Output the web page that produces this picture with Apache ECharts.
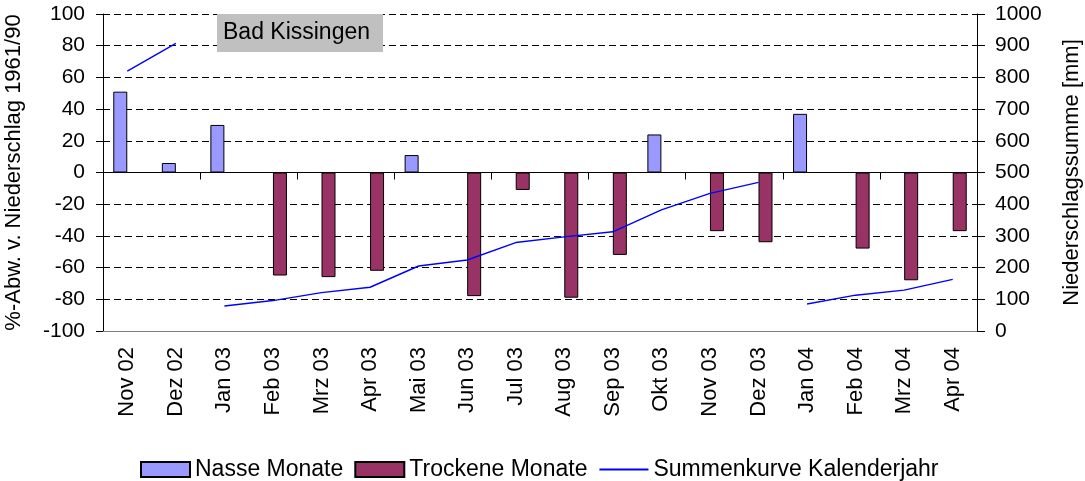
<!DOCTYPE html>
<html>
<head>
<meta charset="utf-8">
<title>Bad Kissingen</title>
<script src="https://cdn.jsdelivr.net/npm/echarts@6/dist/echarts.min.js"></script>
<style>
    html, body { margin: 0; padding: 0; background: #fff; }
    #chart { width: 1085px; height: 481px; }
</style>
</head>
<body>
<div id="chart"></div>
<script>
// Monthly precipitation, Bad Kissingen
var categories = ['Nov 02', 'Dez 02', 'Jan 03', 'Feb 03', 'Mrz 03', 'Apr 03', 'Mai 03', 'Jun 03', 'Jul 03',
    'Aug 03', 'Sep 03', 'Okt 03', 'Nov 03', 'Dez 03', 'Jan 04', 'Feb 04', 'Mrz 04', 'Apr 04'];

// % deviation from 1961/90 mean (left axis)
var deviation = [51, 6, 30, -65, -66, -62, 11, -78, -11, -79, -52, 24, -37, -44, 37, -48, -68, -37];

// cumulative precipitation per calendar year in mm (right axis)
var sumCurve = [820, 907, 79, 96, 121, 138, 205, 224, 279, 297, 313, 382, 434, 469, 85, 113, 129, 163];

var FONT = '"Liberation Sans", Arial, sans-serif';

var wet = deviation.map(function (v) { return v > 0 ? v : null; });
var dry = deviation.map(function (v) { return v < 0 ? v : null; });

// one line segment per calendar year, so the curve breaks at January
function yearSeries() {
    var years = [];
    categories.forEach(function (c) {
        var y = c.slice(-2);
        if (years.indexOf(y) < 0) {
            years.push(y);
        }
    });

    return years.map(function (y) {
        return {
            name: 'Summenkurve Kalenderjahr',
            type: 'line',
            xAxisIndex: 0,
            yAxisIndex: 1,
            symbol: 'none',
            silent: true,
            z: 5,
            lineStyle: { color: '#0000ff', width: 1.4 },
            itemStyle: { color: '#0000ff' },
            data: sumCurve.map(function (v, i) {
                return categories[i].slice(-2) === y ? v : null;
            })
        };
    });
}

var chart = echarts.init(document.getElementById('chart'));

var option = {
    animation: false,
    textStyle: { fontFamily: FONT, color: '#000' },
    title: {
        text: 'Bad Kissingen',
        left: 217,
        top: 14,
        backgroundColor: '#c0c0c0',
        padding: [7, 13, 8, 6],
        textStyle: { fontFamily: FONT, fontSize: 23, fontWeight: 'normal', color: '#000' }
    },
    legend: {
        left: 140,
        top: 458,
        padding: 0,
        itemWidth: 49,
        itemHeight: 15,
        itemGap: 11,
        textStyle: { fontFamily: FONT, fontSize: 23, color: '#000' },
        data: [
            { name: 'Nasse Monate', icon: 'rect' },
            { name: 'Trockene Monate', icon: 'rect' },
            { name: 'Summenkurve Kalenderjahr', itemStyle: { opacity: 0 } }
        ]
    },
    grid: {
        left: 103,
        right: 108,
        top: 14,
        bottom: 150,
        outerBoundsMode: 'none'
    },
    xAxis: [
        {
            // axis line through zero, with ticks only
            type: 'category',
            data: categories,
            position: 'top',
            axisLine: { onZero: true, onZeroAxisIndex: 0, lineStyle: { color: '#000', width: 1 } },
            axisTick: { show: true, inside: true, length: 7, lineStyle: { color: '#000' } },
            axisLabel: { show: false },
            splitLine: { show: false }
        },
        {
            type: 'category',
            data: categories,
            position: 'bottom',
            axisLine: { onZero: false, lineStyle: { color: '#808080', width: 1 } },
            axisTick: { show: false },
            axisLabel: {
                rotate: 90,
                margin: 16,
                fontFamily: FONT,
                fontSize: 22,
                color: '#000',
                interval: 0
            },
            splitLine: { show: false }
        }
    ],
    yAxis: [
        {
            type: 'value',
            min: -100,
            max: 100,
            interval: 20,
            position: 'left',
            name: '%-Abw. v. Niederschlag 1961/90',
            nameLocation: 'middle',
            nameRotate: 90,
            nameGap: 78,
            nameTextStyle: { fontFamily: FONT, fontSize: 22, color: '#000' },
            axisLine: { show: true, lineStyle: { color: '#000', width: 1 } },
            axisTick: { show: true, length: 7, lineStyle: { color: '#000' } },
            axisLabel: { margin: 18, fontFamily: FONT, fontSize: 21, color: '#000' },
            splitLine: { show: true, lineStyle: { color: '#000', width: 1, type: [7, 4] } }
        },
        {
            type: 'value',
            min: 0,
            max: 1000,
            interval: 100,
            position: 'right',
            name: 'Niederschlagssumme [mm]',
            nameLocation: 'middle',
            nameRotate: 90,
            nameGap: 84,
            nameTextStyle: { fontFamily: FONT, fontSize: 22, color: '#000' },
            axisLine: { show: true, lineStyle: { color: '#000', width: 1 } },
            axisTick: { show: true, length: 8, lineStyle: { color: '#000' } },
            axisLabel: {
                margin: 18,
                fontFamily: FONT,
                fontSize: 21,
                color: '#000',
                formatter: function (v) { return String(v); }
            },
            splitLine: { show: false }
        }
    ],
    series: [
        {
            name: 'Nasse Monate',
            type: 'bar',
            xAxisIndex: 0,
            yAxisIndex: 0,
            barWidth: 14,
            barGap: '0%',
            itemStyle: { color: '#9999ff', borderColor: '#000', borderWidth: 1 },
            data: wet
        },
        {
            name: 'Trockene Monate',
            type: 'bar',
            xAxisIndex: 0,
            yAxisIndex: 0,
            barWidth: 14,
            barGap: '0%',
            itemStyle: { color: '#993366', borderColor: '#000', borderWidth: 1 },
            data: dry
        }
    ].concat(yearSeries())
};

chart.setOption(option);
</script>
</body>
</html>
